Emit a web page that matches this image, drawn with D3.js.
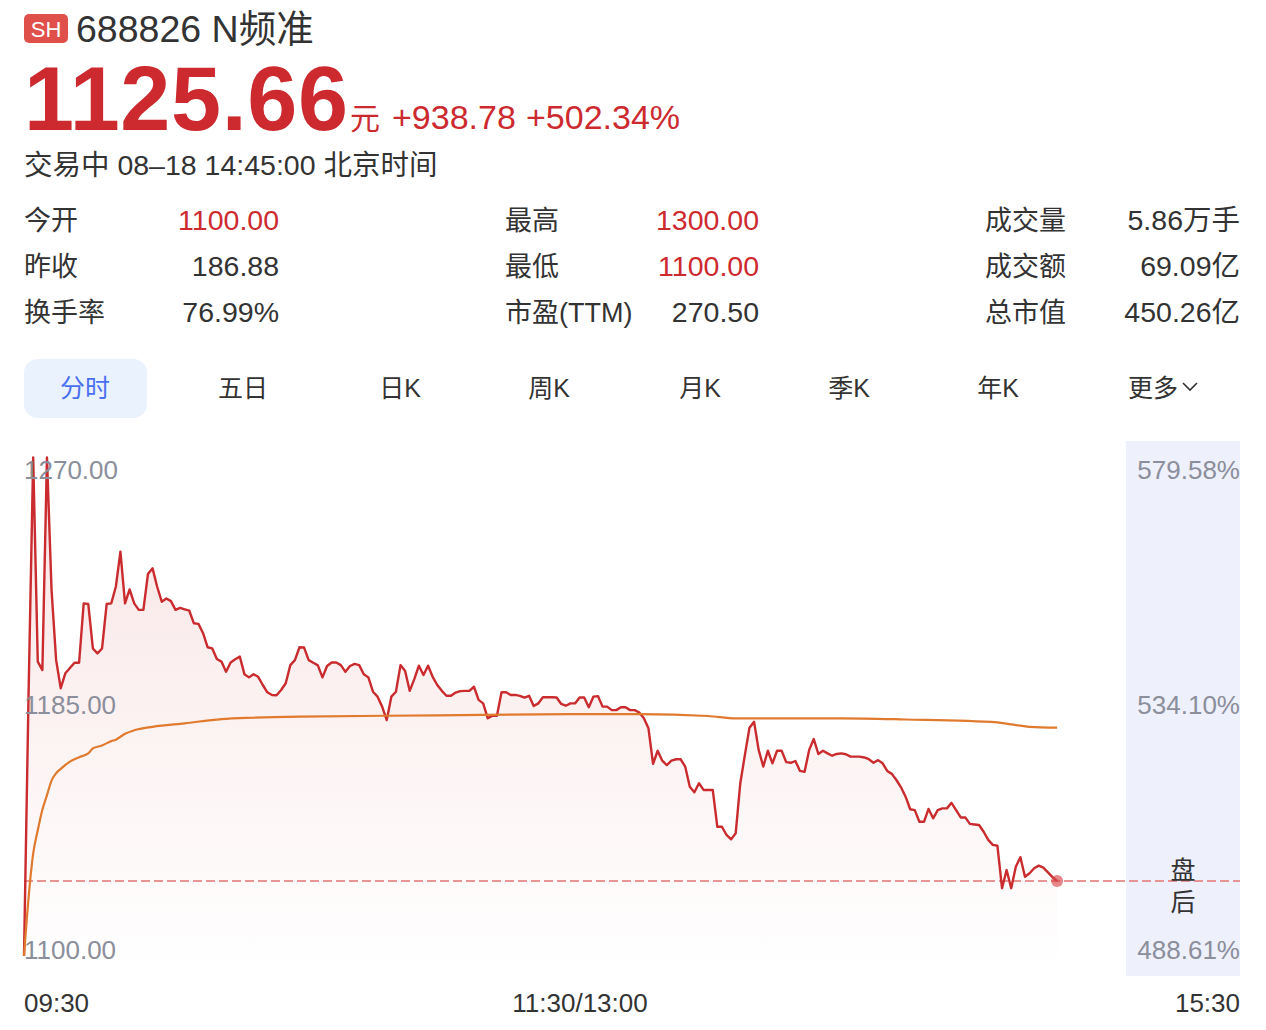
<!DOCTYPE html>
<html>
<head>
<meta charset="utf-8">
<script src="https://cdn.jsdelivr.net/npm/d3@7/dist/d3.min.js"></script>
<style>
  html, body { margin: 0; padding: 0; background: #fff; }
  svg { display: block; }
  text { font-family: "Liberation Sans", "Noto Sans CJK SC", sans-serif; }
</style>
</head>
<body>
<svg id="chart" width="1266" height="1030"></svg>
<script>
// ---------------- data ----------------
const stockCode = "688826";
const stockName = "N频准";
const market = "SH";
const lastPrice = 1125.66;
const prevClose = 186.88;
const changeText = "+938.78";
const changePctText = "+502.34%";
const statusText = "交易中 08–18 14:45:00 北京时间";

const statLabels = [["今开", "昨收", "换手率"], ["最高", "最低", "市盈(TTM)"], ["成交量", "成交额", "总市值"]];
const statValues = [["1100.00", "186.88", "76.99%"], ["1300.00", "1100.00", "270.50"], ["5.86万手", "69.09亿", "450.26亿"]];
const statRed = [[true, false, false], [true, true, false], [false, false, false]];

const tabs = ["分时", "五日", "日K", "周K", "月K", "季K", "年K", "更多"];

const priceTicks = [1270.00, 1185.00, 1100.00];
const pctTicks = ["579.58%", "534.10%", "488.61%"];
const timeLabels = ["09:30", "11:30/13:00", "15:30"];

// minute index 0 = 09:30, 120 = 11:30/13:00, 240 = 15:00
const prices = [
  1100, 1190, 1270.5, 1200.7, 1197.8, 1270.5, 1225.2, 1201.2, 1191.6, 1196.7,
  1198.5, 1200.3, 1200.3, 1220.6, 1220.4, 1205.2, 1203.5, 1205.2, 1220.4, 1220.6,
  1226.3, 1238.3, 1220.6, 1225.4, 1220.6, 1218.4, 1218.4, 1230.7, 1232.6, 1226.3,
  1221.2, 1222.3, 1221.4, 1218.4, 1219.1, 1218.6, 1218.1, 1213.8, 1213.6, 1210.4,
  1205.6, 1205.2, 1201.6, 1200.7, 1197.2, 1200.4, 1201.5, 1202.4, 1196.4, 1195.3,
  1196.4, 1195.5, 1192.7, 1190.2, 1189.3, 1189.2, 1191.0, 1193.3, 1199.5, 1201.2,
  1205.6, 1205.5, 1201.2, 1200.3, 1199.4, 1195.3, 1199.2, 1200.4, 1200.4, 1199.5,
  1197.2, 1199.2, 1199.9, 1199.5, 1196.4, 1195.3, 1190.4, 1188.7, 1185.3, 1180.7,
  1188.7, 1190.4, 1199.5, 1197.5, 1190.7, 1194.7, 1199.3, 1196.1, 1199.3, 1195.5,
  1192.7, 1190.7, 1189.0, 1189.0, 1190.1, 1190.6, 1190.7, 1190.7, 1192.1, 1187.6,
  1186.4, 1181.3, 1182.2, 1182.2, 1190.2, 1190.2, 1189.3, 1189.3, 1189.0, 1188.4,
  1189.0, 1185.5, 1186.4, 1188.5, 1188.5, 1188.5, 1188.4, 1186.2, 1185.6, 1186.4,
  1186.4, 1188.4, 1188.4, 1185.1, 1188.7, 1188.9, 1185.3, 1185.3, 1184.1, 1184.1,
  1185.1, 1185.1, 1184.1, 1184.1, 1183.3, 1181.3, 1177.9, 1165.7, 1170.2, 1166.8,
  1165.3, 1166.8, 1167.3, 1167.3, 1164.8, 1157.9, 1156.0, 1159.1, 1156.8, 1156.8,
  1156.8, 1144.2, 1144.2, 1141.4, 1139.9, 1142.0, 1159.1, 1168.8, 1178.1, 1180.1,
  1170.5, 1164.8, 1170.2, 1165.9, 1170.2, 1170.2, 1166.3, 1166.1, 1166.7, 1163.3,
  1163.0, 1170.5, 1174.2, 1169.1, 1170.2, 1169.3, 1168.5, 1169.1, 1169.3, 1169.0,
  1168.2, 1168.2, 1168.2, 1167.9, 1167.3, 1166.1, 1167.0, 1165.9, 1163.3, 1162.3,
  1160.2, 1157.7, 1154.5, 1150.2, 1149.9, 1145.9, 1145.9, 1150.3, 1147.1, 1149.9,
  1150.5, 1150.5, 1152.4, 1149.9, 1147.4, 1147.4, 1145.2, 1145.0, 1144.8, 1142.5,
  1139.7, 1138.0, 1137.7, 1123.2, 1129.4, 1123.2, 1130.5, 1133.8, 1127.1, 1128.3,
  1130.0, 1130.9, 1130.2, 1128.6, 1127.0, 1125.66
];

const avgMinutes = [0, 1, 2, 3, 4, 5, 6, 7, 8, 10, 12, 14, 15, 17, 19, 20, 21, 22, 24, 28, 35, 43, 50, 60, 90, 119, 134, 149, 155, 178, 192, 212, 215, 219, 225];
const avgValues  = [1100, 1120, 1135, 1143, 1150, 1155, 1160, 1162.5, 1164, 1166.5, 1168, 1169.3, 1171, 1172, 1173.5, 1174, 1175, 1176, 1177.2, 1178.4, 1179.6, 1181, 1181.5, 1181.9, 1182.3, 1182.7, 1182.7, 1182.1, 1181.3, 1181.3, 1180.9, 1179.9, 1179.2, 1178.4, 1178.1];

// ---------------- drawing ----------------
const svg = d3.select("#chart");
const RED = "#cc2a2f";
const DARK = "#333333";
const GRAY = "#8b8e9b";

// header
svg.append("rect").attr("x", 24).attr("y", 14).attr("width", 44).attr("height", 29).attr("rx", 5).attr("fill", "#e0504a");
svg.append("text").attr("x", 46).attr("y", 37).attr("text-anchor", "middle").attr("fill", "#fff")
  .attr("font-size", 22).text(market);
svg.append("text").attr("x", 76).attr("y", 42).attr("fill", DARK).attr("font-size", 37.5)
  .text(stockCode + " " + stockName);

svg.append("text").attr("x", 24).attr("y", 130).attr("fill", RED).attr("font-size", 90)
  .attr("letter-spacing", 0.6).attr("font-weight", "bold").text(lastPrice.toFixed(2));
svg.append("text").attr("x", 350).attr("y", 129).attr("fill", RED).attr("font-size", 30)
  .attr("font-family", "Noto Sans CJK SC").text("元");
svg.append("text").attr("x", 392).attr("y", 129).attr("fill", RED).attr("font-size", 34).text(changeText);
svg.append("text").attr("x", 526).attr("y", 129).attr("fill", RED).attr("font-size", 34).text(changePctText);

svg.append("text").attr("x", 24).attr("y", 175).attr("fill", DARK).attr("font-size", 28.5).text(statusText);

// stats
const colLabelX = [24, 505, 985];
const colValueX = [279, 759, 1240];
const rowY = [230, 276, 322];
statLabels.forEach((col, c) => {
  col.forEach((lab, r) => {
    svg.append("text").attr("x", colLabelX[c]).attr("y", rowY[r]).attr("fill", DARK)
      .attr("font-size", 27).text(lab);
    svg.append("text").attr("x", colValueX[c]).attr("y", rowY[r]).attr("fill", statRed[c][r] ? RED : DARK)
      .attr("text-anchor", "end").attr("font-size", 28.5).text(statValues[c][r]);
  });
});

// tabs
const tabX = [85, 243, 400, 549, 700, 849, 998, 1153];
svg.append("rect").attr("x", 24).attr("y", 359).attr("width", 123).attr("height", 59).attr("rx", 14).attr("fill", "#eaf2fe");
tabs.forEach((t, i) => {
  svg.append("text").attr("x", tabX[i]).attr("y", 397).attr("text-anchor", "middle")
    .attr("fill", i === 0 ? "#4a6ff0" : DARK).attr("font-size", 25).text(t);
});
// chevron for 更多
svg.append("path").attr("d", "M1183,383 L1190,390 L1197,383").attr("fill", "none")
  .attr("stroke", DARK).attr("stroke-width", 1.6);

// chart area
const x = d3.scaleLinear().domain([0, 240]).range([24, 1126]);
const y = d3.scaleLinear().domain([1100, 1270]).range([956, 459]);
const chartTop = 441, chartBottom = 976;

// after hours panel
svg.append("rect").attr("x", x(240)).attr("y", chartTop).attr("width", 1240 - x(240))
  .attr("height", chartBottom - chartTop).attr("fill", "#eef0fc");

const defs = svg.append("defs");
const grad = defs.append("linearGradient").attr("id", "fillGrad")
  .attr("gradientUnits", "userSpaceOnUse").attr("x1", 0).attr("y1", chartTop).attr("x2", 0).attr("y2", chartBottom);
grad.append("stop").attr("offset", 0).attr("stop-color", "#d23a3a").attr("stop-opacity", 0.14);
grad.append("stop").attr("offset", 1).attr("stop-color", "#d23a3a").attr("stop-opacity", 0.0);

const pts = prices.map((p, i) => [i, p]);
const area = d3.area().x(d => x(d[0])).y0(chartBottom).y1(d => y(d[1]));
svg.append("path").datum(pts).attr("d", area).attr("fill", "url(#fillGrad)");

// reference dashed line at last price
svg.append("line").attr("x1", 24).attr("x2", 1240).attr("y1", y(lastPrice)).attr("y2", y(lastPrice))
  .attr("stroke", "#e58a8a").attr("stroke-opacity", 0.9).attr("stroke-width", 2).attr("stroke-dasharray", "9,4");

const line = d3.line().x(d => x(d[0])).y(d => y(d[1]));
svg.append("path").datum(pts).attr("d", line).attr("fill", "none").attr("stroke", "#c92b2e")
  .attr("stroke-width", 2.4).attr("stroke-linejoin", "round");

const avgPts = avgMinutes.map((m, i) => [m, avgValues[i]]);
svg.append("path").datum(avgPts).attr("d", d3.line().x(d => x(d[0])).y(d => y(d[1])).curve(d3.curveMonotoneX))
  .attr("fill", "none").attr("stroke", "#e07a2e").attr("stroke-width", 2.2);

// last point dot
const lastIdx = prices.length - 1;
svg.append("circle").attr("cx", x(lastIdx)).attr("cy", y(prices[lastIdx])).attr("r", 6)
  .attr("fill", "#d9484a").attr("fill-opacity", 0.65);

// y labels
const yLabelY = [479, 714, 959];
priceTicks.forEach((v, i) => {
  svg.append("text").attr("x", 24).attr("y", yLabelY[i]).attr("fill", GRAY).attr("font-size", 26)
    .text(v.toFixed(2));
  svg.append("text").attr("x", 1240).attr("y", yLabelY[i]).attr("fill", GRAY).attr("font-size", 26)
    .attr("text-anchor", "end").text(pctTicks[i]);
});

// 盘后
svg.append("text").attr("x", 1183).attr("y", 879).attr("text-anchor", "middle").attr("fill", DARK)
  .attr("font-size", 25).text("盘");
svg.append("text").attr("x", 1183).attr("y", 911).attr("text-anchor", "middle").attr("fill", DARK)
  .attr("font-size", 25).text("后");

// x labels
svg.append("text").attr("x", 24).attr("y", 1012).attr("fill", DARK).attr("font-size", 26).text(timeLabels[0]);
svg.append("text").attr("x", 580).attr("y", 1012).attr("fill", DARK).attr("font-size", 26)
  .attr("text-anchor", "middle").text(timeLabels[1]);
svg.append("text").attr("x", 1240).attr("y", 1012).attr("fill", DARK).attr("font-size", 26)
  .attr("text-anchor", "end").text(timeLabels[2]);
</script>
</body>
</html>
